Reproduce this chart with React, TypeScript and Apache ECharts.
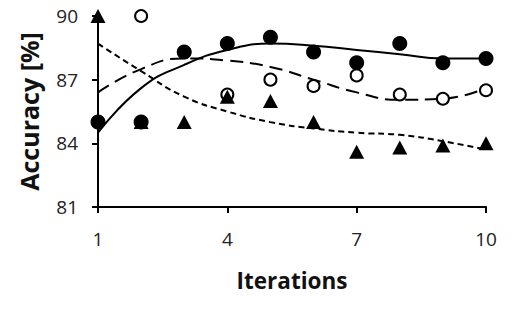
import React, { useEffect, useRef } from "react";
import * as echarts from "echarts";

const iterations = ["1", "2", "3", "4", "5", "6", "7", "8", "9", "10"];
const filledCircles = [85.0, 85.0, 88.3, 88.7, 89.0, 88.3, 87.8, 88.7, 87.8, 88.0];
const openCircles = [85.0, 90.0, 88.3, 86.3, 87.0, 86.7, 87.2, 86.3, 86.1, 86.5];
const triangles = [90.0, 85.0, 85.0, 86.2, 86.0, 85.0, 83.6, 83.8, 83.9, 84.0];
const trendFilled = [84.5, 86.6, 87.7, 88.4, 88.7, 88.6, 88.4, 88.2, 88.0, 88.0];
const trendOpen = [86.4, 87.5, 88.0, 87.9, 87.6, 87.0, 86.4, 86.05, 86.1, 86.6];
const trendTriangles = [88.7, 87.4, 86.2, 85.5, 85.0, 84.7, 84.5, 84.4, 84.1, 83.7];
const yTicks = [81, 84, 87, 90];

export default function App() {
  const ref = useRef<HTMLDivElement>(null);
  useEffect(() => {
    if (!ref.current) return;
    const chart = echarts.init(ref.current, null, { renderer: "svg" });
    const font = "'Open Sans', sans-serif";
    chart.setOption({
      animation: false,
      backgroundColor: "#ffffff",
      grid: { left: 98, right: 27, top: 16, bottom: 105, containLabel: false },
      xAxis: {
        type: "category",
        data: iterations,
        boundaryGap: false,
        name: "Iterations",
        nameLocation: "middle",
        nameGap: 62,
        nameTextStyle: { fontFamily: font, fontWeight: "bold", fontSize: 22.5, color: "#111" },
        axisLine: { lineStyle: { color: "#000", width: 2 } },
        axisTick: { show: true, interval: 2, length: 6, lineStyle: { color: "#000", width: 2 } },
        axisLabel: { interval: 2, fontFamily: font, fontSize: 19, color: "#222", margin: 22 },
        splitLine: { show: false },
      },
      yAxis: {
        type: "value",
        min: yTicks[0],
        max: yTicks[yTicks.length - 1],
        interval: 3,
        name: "Accuracy [%]",
        nameLocation: "middle",
        nameGap: 57,
        nameTextStyle: { fontFamily: font, fontWeight: "bold", fontSize: 25, color: "#111" },
        axisLine: { show: true, lineStyle: { color: "#000", width: 2 } },
        axisTick: { show: true, length: 6, lineStyle: { color: "#000", width: 2 } },
        axisLabel: { fontFamily: font, fontSize: 19, color: "#222", margin: 20 },
        splitLine: { show: false },
      },
      series: [
        {
          type: "line",
          data: trendFilled,
          smooth: 0.5,
          showSymbol: false,
          lineStyle: { color: "#000", width: 2, type: "solid" },
          z: 3,
        },
        {
          type: "line",
          data: trendOpen,
          smooth: 0.5,
          showSymbol: false,
          lineStyle: { color: "#000", width: 2, type: [13, 7] },
          z: 3,
        },
        {
          type: "line",
          data: trendTriangles,
          smooth: 0.5,
          showSymbol: false,
          lineStyle: { color: "#000", width: 2, type: [6, 4] },
          z: 3,
        },
        {
          type: "scatter",
          data: openCircles,
          symbol: "circle",
          symbolSize: 12,
          itemStyle: { color: "#fff", borderColor: "#000", borderWidth: 2, opacity: 1 },
          z: 4,
        },
        {
          type: "scatter",
          data: filledCircles,
          symbol: "circle",
          symbolSize: 15,
          itemStyle: { color: "#000", opacity: 1 },
          z: 5,
        },
        {
          type: "scatter",
          data: triangles,
          symbol: "triangle",
          symbolSize: [15, 14],
          itemStyle: { color: "#000", opacity: 1 },
          z: 6,
        },
      ],
    });
    return () => chart.dispose();
  }, []);
  return (
    <div
      ref={ref}
      style={{ position: "fixed", left: 0, top: 0, width: 513, height: 312 }}
    />
  );
}
